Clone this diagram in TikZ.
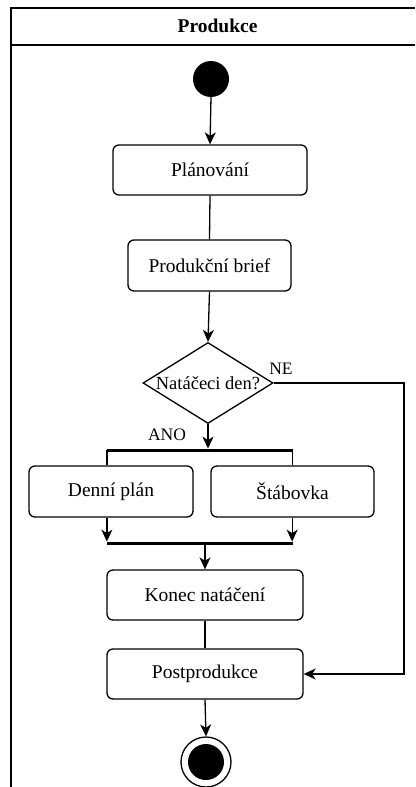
\documentclass[tikz,border=0pt]{standalone}
\usepackage{fontspec}
\setmainfont{Liberation Serif}
\usetikzlibrary{shapes.geometric,arrows.meta,calc}
\tikzset{
  act/.style={draw, rounded corners=6pt, line width=1.3pt, fill=white, inner sep=0pt, font=\fontsize{19.5}{23}\selectfont},
  conn/.style={line width=1.3pt},
  arr/.style={conn, -{Stealth[length=12pt,width=11pt,inset=3.5pt]}},
  bar/.style={draw, fill=black, rectangle, inner sep=0pt, minimum height=2.5pt, line width=0.3pt},
  lbl/.style={font=\fontsize{17.5}{20}\selectfont, inner sep=0pt},
  framel/.style={line width=1.5pt}
}
\begin{document}
\begin{tikzpicture}[x=1pt,y=-1pt]
\useasboundingbox (0,0) rectangle (415,787);
\fill[white] (0,0) rectangle (415,787);
% frame
\coordinate (fTL) at (11,8);
\coordinate (fTR) at (415,8);
\coordinate (fHL) at (11,45);
\coordinate (fHR) at (415,45);
\coordinate (fBL) at (11,787);
\draw[framel] (fTR) -- (fTL) -- (fBL);
\draw[framel] (fHL) -- (fHR);
\node[font=\fontsize{19.5}{23}\selectfont\bfseries] (title) at (217.5,26) {Produkce};
% nodes
\node[circle, fill=black, minimum size=36pt, inner sep=0pt] (start) at (211,79) {};
\node[act, minimum width=194pt, minimum height=50pt] (plan) at (210,170) {Plánování};
\node[act, minimum width=163pt, minimum height=51pt] (brief) at (209.5,265.5) {Produkční brief};
\node[diamond, draw, fill=white, line width=1.3pt, minimum width=130pt, minimum height=81pt, inner sep=0pt] (dec) at (208,383) {};
\node[font=\fontsize{18.5}{21}\selectfont, inner sep=0pt] (dectext) at (dec.center) {Natáčeci den?};
\node[bar, minimum width=185pt] (fork) at (199.5,450) {};
\node[act, minimum width=164pt, minimum height=51pt] (dp) at (111,491.5) {Denní plán};
\node[act, minimum width=163pt, minimum height=51pt] (stab) at (292.5,491.5) {Štábovka};
\node[bar, minimum width=185pt] (join) at (199.5,543) {};
\node[act, minimum width=196pt, minimum height=50pt] (konec) at (205,595) {Konec natáčení};
\node[act, minimum width=196pt, minimum height=50pt] (post) at (205,674) {Postprodukce};
\node[circle, draw, line width=1.3pt, fill=white, minimum size=50pt, inner sep=0pt] (end) at (206,762) {};
\node[circle, fill=black, minimum size=36pt, inner sep=0pt] (endin) at (end.center) {};
\node[lbl] (ne) at (281,369) {NE};
\node[lbl] (ano) at (167,435) {ANO};
\coordinate (neC) at (404,383);
% connectors
\draw[arr] (start.south) -- (plan.north);
\draw[conn] (plan.south) -- (brief.north);
\draw[arr] (brief.south) -- (dec.north);
\draw[arr] (dec.south) -- (dec.south |- fork.north);
\draw[conn] (fork.west) -- (fork.west |- dp.north);
\draw[conn] (fork.east) -- (fork.east |- stab.north);
\draw[arr] (join.west |- dp.south) -- (join.west |- join.north);
\draw[arr] (join.east |- stab.south) -- (join.east |- join.north);
\draw[arr] (join.south -| konec.north) -- (konec.north);
\draw[conn] (konec.south) -- (post.north);
\draw[arr] (post.south) -- (end.north);
\draw[arr] (dec.east) -- (neC) |- (post.east);
\end{tikzpicture}
\end{document}
